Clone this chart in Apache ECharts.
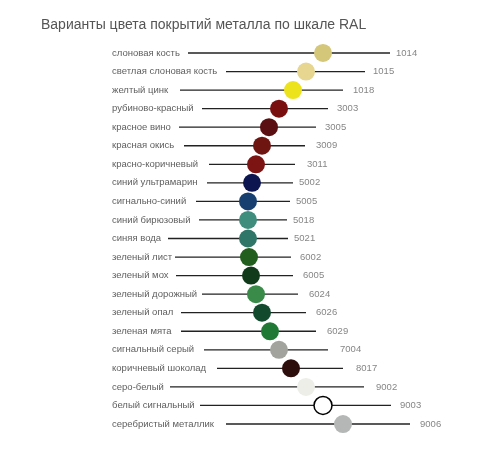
<!DOCTYPE html>
<html><head><meta charset="utf-8">
<script src="https://cdn.jsdelivr.net/npm/echarts@6/dist/echarts.min.js"></script>
<style>html,body{margin:0;padding:0;background:#fff}#c{width:480px;height:451px}</style>
</head><body><div id="c"></div>
<script>
const names=['слоновая кость','светлая слоновая кость','желтый цинк','рубиново-красный','красное вино','красная окись','красно-коричневый','синий ультрамарин','сигнально-синий','синий бирюзовый','синяя вода','зеленый лист','зеленый мох','зеленый дорожный','зеленый опал','зеленая мята','сигнальный серый','коричневый шоколад','серо-белый','белый сигнальный','серебристый металлик'];
const codes=['1014','1015','1018','3003','3005','3009','3011','5002','5005','5018','5021','6002','6005','6024','6026','6029','7004','8017','9002','9003','9006'];
const dotX=[323,306,293,279,269,262,256,252,248,248,248,249,251,256,262,270,279,291,306,323,343];
const lineStart=[188,226,180,202,179,184,209,207,196,199,168,175,176,202,181,181,204,217,170,200,226];
const lineEnd=[390,365,343,328,316,305,295,293,290,287,288,291,293,298,306,316,328,343,364,391,410];
const codeX=[396,373,353,337,325,316,307,299,296,293,294,300,303,309,316,327,340,356,376,400,420];
const colors=['#d4c77a','#e6d690','#ece31c','#7a0f10','#5a1012','#6e1512','#7d1414','#0d1550','#174070','#3f8d7d','#2f7568','#225e1d','#113a1a','#3a8a4a','#124a2e','#207a35','#a3a39e','#2e0d0d','#eeeee8','#ffffff','#b5b7b6'];
const labelX=112;
const ch=echarts.init(document.getElementById('c'));
ch.setOption({
 animation:false,
 title:{text:'Варианты цвета покрытий металла по шкале RAL',left:36,top:13,textStyle:{fontSize:14,fontWeight:'normal',color:'#555',fontFamily:'Liberation Sans'}},
 grid:{left:0,right:0,top:43.7,height:389.6},
 xAxis:{type:'value',min:0,max:480,show:false},
 yAxis:{type:'category',data:codes,inverse:true,show:false},
 series:[
  {type:'custom',renderItem:(p,api)=>{const a=api.coord([api.value(0),api.value(2)]),b=api.coord([api.value(1),api.value(2)]);return {type:'line',shape:{x1:a[0],y1:a[1],x2:b[0],y2:b[1]},style:{stroke:'#222',lineWidth:1.3}};},
   data:lineStart.map((s,i)=>[s,lineEnd[i],i])},
  {type:'scatter',symbolSize:0.1,data:names.map((s,i)=>[labelX,i]),
   label:{show:true,position:'right',distance:0,formatter:p=>names[p.dataIndex],fontSize:9.5,color:'#333',fontFamily:'Liberation Sans'}},
  {type:'scatter',symbolSize:0.1,data:codeX.map((s,i)=>[s,i]),
   label:{show:true,position:'right',distance:0,formatter:p=>codes[p.dataIndex],fontSize:9.5,color:'#666',fontFamily:'Liberation Sans'}},
  {type:'scatter',symbolSize:18,data:dotX.map((x,i)=>({value:[x,i],itemStyle:{opacity:1,color:colors[i],borderColor:codes[i]==='9003'?'#000':colors[i],borderWidth:codes[i]==='9003'?1.5:0}}))}
 ]
});
</script></body></html>
